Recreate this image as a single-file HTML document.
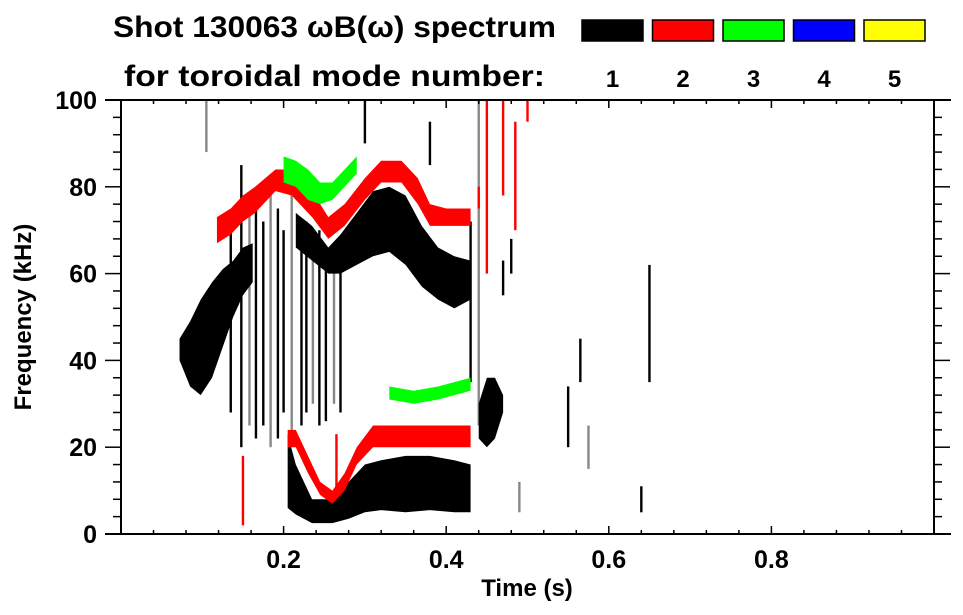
<!DOCTYPE html>
<html><head><meta charset="utf-8"><style>
body{margin:0;background:#fff;}
svg{display:block;font-family:"Liberation Sans",Arial,sans-serif;font-weight:bold;}
</style></head><body>
<svg id="chart" width="963" height="615" viewBox="0 0 963 615">
  <text x="113" y="37" font-size="30" textLength="443" lengthAdjust="spacingAndGlyphs">Shot 130063 ωB(ω) spectrum</text>
  <text x="124" y="86" font-size="30" textLength="421" lengthAdjust="spacingAndGlyphs">for toroidal mode number:</text>
  <g id="legend"></g>
  <g id="marks"></g>
  <g id="axes"></g>
  <text x="527" y="596" font-size="24" text-anchor="middle">Time (s)</text>
  <text transform="translate(31,317) rotate(-90)" font-size="24" text-anchor="middle">Frequency (kHz)</text>
</svg>
<script>
const modeLabels = ["1","2","3","4","5"];
const modeColors = ["#000000","#ff0000","#00ff00","#0000ff","#ffff00"];
const xTicks = [0.2,0.4,0.6,0.8];
const xTickLabels = ["0.2","0.4","0.6","0.8"];
const yTicks = [0,20,40,60,80,100];
const yTickLabels = ["0","20","40","60","80","100"];

// bands: time, lower freq, upper freq (kHz)
const blackEarlyT  = [0.072,0.085,0.098,0.112,0.125,0.138,0.150,0.162];
const blackEarlyLo = [40,34,32,36,43,50,55,58];
const blackEarlyHi = [45,49,54,58,61,63,66,67];
const blackUpT  = [0.215,0.235,0.255,0.27,0.29,0.31,0.33,0.35,0.37,0.39,0.41,0.43];
const blackUpLo = [66,63,60,60,62,64,65,62,57,54,52,54];
const blackUpHi = [74,71,66,69,74,79,80,78,71,66,64,63];
const redUpT  = [0.118,0.135,0.15,0.165,0.19,0.21,0.235,0.255,0.275,0.30,0.32,0.345,0.365,0.38,0.40,0.43];
const redUpLo = [67,69,72,74,79,78,73,68,71,77,81,81,76,71,71,71];
const redUpHi = [73,75,78,80,84,84,79,73,76,82,86,86,82,76,75,75];
const greenUpT  = [0.2,0.215,0.23,0.245,0.26,0.275,0.29];
const greenUpLo = [81,80,77,76,77,80,83];
const greenUpHi = [87,86,84,81,81,84,87];
const redLowT  = [0.205,0.215,0.23,0.245,0.26,0.275,0.29,0.31,0.35,0.39,0.43];
const redLowLo = [20,20,14,9,7,10,16,20,20,20,20];
const redLowHi = [24,24,18,12,10,14,20,25,25,25,25];
const blackLowT  = [0.205,0.215,0.235,0.26,0.28,0.30,0.32,0.35,0.38,0.41,0.43];
const blackLowLo = [6,4.5,2.5,2.5,3.5,5,5.5,5,5.5,5,5];
const blackLowHi = [23,16,8,8,12,16,17,18,18,17,16];
const greenLowT  = [0.33,0.36,0.39,0.43];
const greenLowLo = [31,30,31,33];
const greenLowHi = [34,33,34,36];
const blackMidT  = [0.44,0.45,0.46,0.47];
const blackMidLo = [22,20,22,28];
const blackMidHi = [30,36,36,32];

// vertical streaks: time, lower freq, upper freq, mode index
const streakT  = [0.135,0.148,0.158,0.166,0.175,0.184,0.193,0.2,0.21,0.222,0.228,0.236,0.244,0.252,0.262,0.27,0.43,0.44,0.47,0.48,0.49,0.55,0.565,0.575,0.64,0.65,0.105,0.3,0.38,0.45,0.47,0.485,0.5,0.44,0.15,0.265];
const streakLo = [28,20,25,22,25,20,22,28,24,25,28,30,25,26,30,28,35,25,55,60,5,20,35,15,5,35,88,90,85,60,78,70,95,75,2,10];
const streakHi = [72,85,76,78,72,80,75,70,82,68,72,65,70,66,62,67,72,100,63,68,12,34,45,25,11,62,100,100,95,100,100,95,100,80,18,23];
const streakMode = [0,0,0,0,0,0,0,0,0,0,0,0,0,0,0,0,0,0,0,0,0,0,0,0,0,0,0,0,0,1,1,1,1,1,1,1];

const X0=121, X1=934, Y0=534, Y1=100;
const xs = t => X0 + (t/1.0)*(X1-X0);
const ys = f => Y0 - (f/100)*(Y0-Y1);
const NS="http://www.w3.org/2000/svg";
const marks=document.getElementById('marks');
const axes=document.getElementById('axes');
const legend=document.getElementById('legend');

function band(T,Lo,Hi,mode,name){
  const up=T.map((t,i)=>xs(t)+","+ys(Hi[i]));
  const dn=T.map((t,i)=>xs(t)+","+ys(Lo[i])).reverse();
  const p=document.createElementNS(NS,'polygon');
  p.setAttribute('points',up.concat(dn).join(' '));
  p.setAttribute('fill',modeColors[mode]);
  
  
  marks.appendChild(p);
}
streakT.forEach((t,i)=>{
  const r=document.createElementNS(NS,'rect');
  r.setAttribute('x',xs(t)-1.2);
  r.setAttribute('width',2.4);
  r.setAttribute('y',ys(streakHi[i]));
  r.setAttribute('height',ys(streakLo[i])-ys(streakHi[i]));
  r.setAttribute('fill',i%3===2&&streakMode[i]===0?'#888':modeColors[streakMode[i]]);
  
  
  marks.appendChild(r);
});
band(blackEarlyT,blackEarlyLo,blackEarlyHi,0,'mode1-early-band');
band(blackUpT,blackUpLo,blackUpHi,0,'mode1-upper-band');
band(redUpT,redUpLo,redUpHi,1,'mode2-upper-band');
band(greenUpT,greenUpLo,greenUpHi,2,'mode3-upper-band');
band(blackLowT,blackLowLo,blackLowHi,0,'mode1-lower-band');
band(redLowT,redLowLo,redLowHi,1,'mode2-lower-band');
band(greenLowT,greenLowLo,greenLowHi,2,'mode3-lower-band');
band(blackMidT,blackMidLo,blackMidHi,0,'mode1-mid-band');

function line(x1,y1,x2,y2,w,name){
  const l=document.createElementNS(NS,'line');
  l.setAttribute('x1',x1);l.setAttribute('y1',y1);l.setAttribute('x2',x2);l.setAttribute('y2',y2);
  l.setAttribute('stroke','#000');l.setAttribute('stroke-width',w||1.5);
  
  
  axes.appendChild(l);
}
function text(x,y,s,size,anchor,name,parent){
  const t=document.createElementNS(NS,'text');
  t.setAttribute('x',x);t.setAttribute('y',y);t.setAttribute('font-size',size);
  t.setAttribute('text-anchor',anchor);t.textContent=s;
  
  
  (parent||axes).appendChild(t);
}
line(105,Y1,951,Y1,2,'top-axis');
line(105,Y0,951,Y0,2,'bottom-axis');
line(X0,Y1,X0,Y0,2,'left-axis');
line(X1,Y1,X1,Y0,2,'right-axis');
for(let k=1;k<25;k++){
  const t=k*0.04, x=xs(t), major=(k%5===0);
  const L=major?8:4;
  line(x,Y0,x,Y0-L,1.5,'x-tick');
  line(x,Y1,x,Y1+L,1.5,'x-tick-top');
}
xTicks.forEach((t,i)=>text(xs(t),568,xTickLabels[i],25,'middle','x-tick-label'));
for(let k=0;k<=25;k++){
  const f=k*4, y=ys(f), major=(k%5===0);
  const L=major?16:8;
  line(X0-L,y,X0,y,1.5,'y-tick');
  line(X1,y,X1+L,y,1.5,'y-tick-right');
}
yTicks.forEach((f,i)=>text(97,ys(f)+9,yTickLabels[i],25,'end','y-tick-label'));

modeLabels.forEach((m,i)=>{
  const x=582+i*70.5;
  const r=document.createElementNS(NS,'rect');
  r.setAttribute('x',x);r.setAttribute('y',20);r.setAttribute('width',61);r.setAttribute('height',21);
  r.setAttribute('fill',modeColors[i]);r.setAttribute('stroke','#000');r.setAttribute('stroke-width',1.5);
  
  
  legend.appendChild(r);
  text(x+30.5,87,m,24,'middle','legend-label',legend);
});
</script>
</body></html>
